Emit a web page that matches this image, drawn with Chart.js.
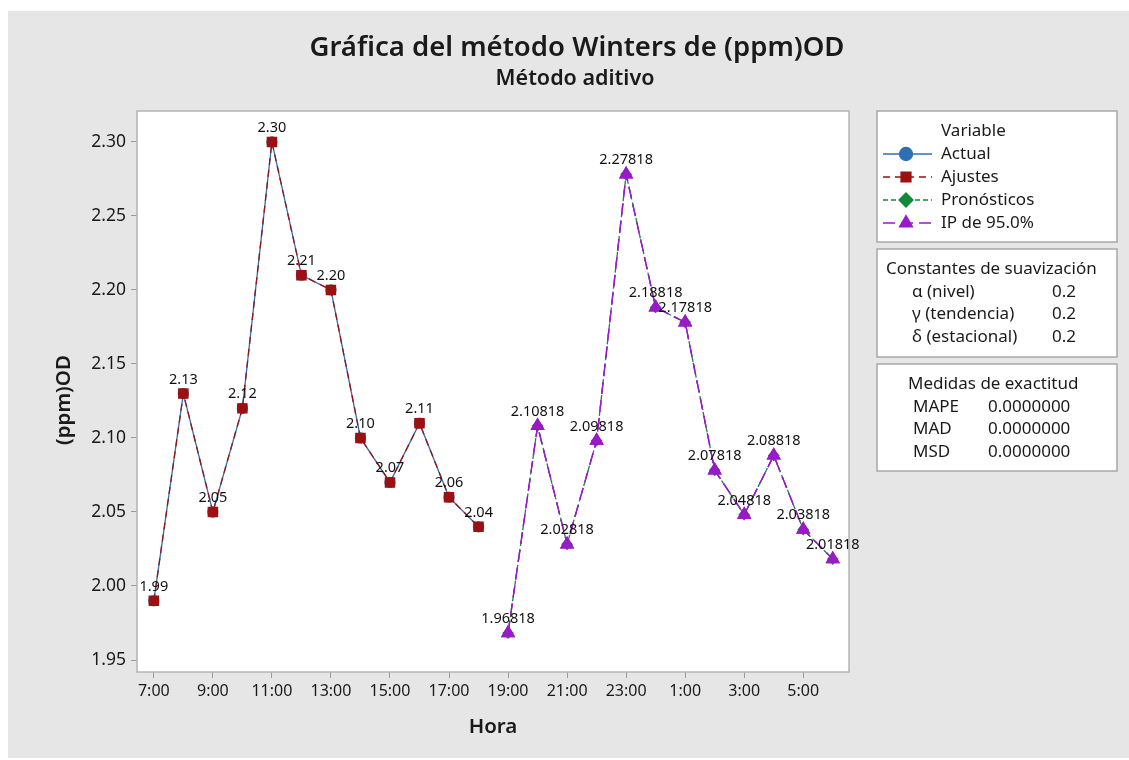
<!DOCTYPE html>
<html><head><meta charset="utf-8">
<script src="https://cdn.jsdelivr.net/npm/chart.js@4/dist/chart.umd.min.js"></script>
<style>html,body{margin:0;padding:0;background:#fff;}canvas{display:block;}</style>
</head><body>
<canvas id="c" width="1129" height="760"></canvas>
<script>
const categories = ["7:00","8:00","9:00","10:00","11:00","12:00","13:00","14:00","15:00","16:00","17:00","18:00",
  "19:00","20:00","21:00","22:00","23:00","0:00","1:00","2:00","3:00","4:00","5:00","6:00"];
const actualValues = [1.99,2.13,2.05,2.12,2.30,2.21,2.20,2.10,2.07,2.11,2.06,2.04];
const fitValues    = [1.99,2.13,2.05,2.12,2.30,2.21,2.20,2.10,2.07,2.11,2.06,2.04];
const forecastValues = [1.96818,2.10818,2.02818,2.09818,2.27818,2.18818,2.17818,2.07818,2.04818,2.08818,2.03818,2.01818];
const piUpper = [1.96818,2.10818,2.02818,2.09818,2.27818,2.18818,2.17818,2.07818,2.04818,2.08818,2.03818,2.01818];
const piLower = [1.96818,2.10818,2.02818,2.09818,2.27818,2.18818,2.17818,2.07818,2.04818,2.08818,2.03818,2.01818];
const yTicks = [1.95,2.00,2.05,2.10,2.15,2.20,2.25,2.30];
const xTickIdx = [0,2,4,6,8,10,12,14,16,18,20,22];
const smoothing = [["α (nivel)","0.2"],["γ (tendencia)","0.2"],["δ (estacional)","0.2"]];
const accuracy = [["MAPE","0.0000000"],["MAD","0.0000000"],["MSD","0.0000000"]];

const F = '"Noto Sans", "Open Sans", sans-serif';
const nFit = fitValues.length;
const pts = (arr, off) => arr.map((v,i)=>({x:i+off, y:v}));

const BLUE='#2f6fb5', RED='#9b1010', GREEN='#138a3a', PURPLE='#9a19c8';

const decor = {
  id:'decor',
  beforeDraw(chart){
    const ctx=chart.ctx, a=chart.chartArea;
    ctx.save();
    ctx.fillStyle='#ffffff'; ctx.fillRect(0,0,1129,760);
    ctx.fillStyle='#e6e6e6'; ctx.fillRect(8,11,1121,747);
    ctx.fillStyle='#ffffff'; ctx.fillRect(a.left,a.top,a.right-a.left,a.bottom-a.top);
    ctx.restore();
  },
  afterDraw(chart){
    const ctx=chart.ctx, a=chart.chartArea;
    ctx.save();
    ctx.strokeStyle='#b4b4b4'; ctx.lineWidth=1.5;
    ctx.strokeRect(a.left,a.top,a.right-a.left,a.bottom-a.top);
    // titles
    ctx.fillStyle='#1a1a1a'; ctx.textAlign='center'; ctx.textBaseline='middle';
    ctx.font='600 27.5px '+F; ctx.fillText('Gráfica del método Winters de (ppm)OD',577,48);
    ctx.font='600 21.5px '+F; ctx.fillText('Método aditivo',575,79);
    ctx.font='600 20.5px '+F; ctx.fillText('Hora',(a.left+a.right)/2,727);
    ctx.save(); ctx.translate(64,400); ctx.rotate(-Math.PI/2);
    ctx.fillText('(ppm)OD',0,0); ctx.restore();
    // data labels
    ctx.font='14.5px '+F; ctx.fillStyle='#111'; ctx.textBaseline='alphabetic';
    const m1=chart.getDatasetMeta(1).data, m4=chart.getDatasetMeta(3).data;
    m1.forEach((p,i)=>ctx.fillText(fitValues[i].toFixed(2),p.x,p.y-10));
    m4.forEach((p,i)=>ctx.fillText(piUpper[i].toFixed(5),p.x,p.y-10));
    // legend boxes
    const bx=877, bw=240;
    const box=(y,h)=>{ctx.fillStyle='#fff';ctx.fillRect(bx,y,bw,h);ctx.strokeStyle='#a8a8a8';ctx.lineWidth=1.5;ctx.strokeRect(bx,y,bw,h);};
    box(111,131); box(249,108); box(364,107);
    ctx.fillStyle='#1a1a1a'; ctx.textAlign='left'; ctx.textBaseline='middle'; ctx.font='17px '+F;
    ctx.fillText('Variable',941,131);
    const items=[['Actual',BLUE,'circle',[]],['Ajustes',RED,'rect',[7,5]],['Pronósticos',GREEN,'rectRot',[5,3]],['IP de 95.0%',PURPLE,'triangle',[12,6]]];
    items.forEach((it,k)=>{
      const y=154+k*23;
      ctx.strokeStyle=it[1]; ctx.lineWidth=1.3; ctx.setLineDash(it[3]);
      ctx.beginPath(); ctx.moveTo(883,y); ctx.lineTo(932,y); ctx.stroke(); ctx.setLineDash([]);
      ctx.fillStyle=it[1]; ctx.strokeStyle=it[1];
      Chart.helpers.drawPoint(ctx,{pointStyle:it[2],radius:it[2]==='circle'?6.5:(it[2]==='triangle'?7.5:7),borderWidth:1},906,y);
      ctx.fillStyle='#1a1a1a'; ctx.fillText(it[0],941,y);
    });
    ctx.fillText('Constantes de suavización',886,269);
    smoothing.forEach((r,k)=>{const y=292+k*22.5; ctx.fillText(r[0],912,y); ctx.fillText(r[1],1052,y);});
    ctx.fillText('Medidas de exactitud',908,384);
    accuracy.forEach((r,k)=>{const y=407+k*22.5; ctx.fillText(r[0],913,y); ctx.fillText(r[1],988,y);});
    ctx.restore();
  }
};

new Chart(document.getElementById('c'),{
  type:'line',
  data:{datasets:[
    {label:'Actual',order:4,data:pts(actualValues,0),borderColor:BLUE,backgroundColor:BLUE,borderWidth:1.3,pointStyle:'circle',pointRadius:5,tension:0},
    {label:'Ajustes',order:3,data:pts(fitValues,0),borderColor:RED,backgroundColor:RED,borderWidth:1.3,borderDash:[7,5],pointStyle:'rect',pointRadius:6.5,tension:0},
    {label:'Pronósticos',order:2,data:pts(forecastValues,nFit),borderColor:GREEN,backgroundColor:GREEN,borderWidth:1.3,borderDash:[5,3],pointStyle:'rectRot',pointRadius:5,tension:0},
    {label:'IP superior 95.0%',order:1,data:pts(piUpper,nFit),borderColor:PURPLE,backgroundColor:PURPLE,borderWidth:1.3,borderDash:[12,6],pointStyle:'triangle',pointRadius:7,tension:0},
    {label:'IP inferior 95.0%',order:0,data:pts(piLower,nFit),borderColor:PURPLE,backgroundColor:PURPLE,borderWidth:1.3,borderDash:[12,6],pointStyle:'triangle',pointRadius:7,tension:0}
  ]},
  options:{
    responsive:false, animation:false, devicePixelRatio:1,
    layout:{padding:{left:0,top:111,right:1129-849,bottom:0}},
    plugins:{legend:{display:false},title:{display:false},tooltip:{enabled:false}},
    scales:{
      x:{type:'linear',min:-0.57,max:23.55,
        afterFit(s){s.height=760-672;},
        afterBuildTicks(s){s.ticks=xTickIdx.map(v=>({value:v}));},
        ticks:{autoSkip:false,maxRotation:0,padding:4,color:'#1a1a1a',font:{family:F,size:16},callback:(v)=>categories[v]},
        grid:{drawOnChartArea:false,drawTicks:true,tickLength:6,color:'#999'},border:{display:false}},
      y:{type:'linear',min:1.9419,max:2.3209,
        afterFit(s){s.width=137;},
        afterBuildTicks(s){s.ticks=yTicks.map(v=>({value:v}));},
        ticks:{autoSkip:false,padding:5,color:'#1a1a1a',font:{family:F,size:17.5},callback:(v)=>v.toFixed(2)},
        grid:{drawOnChartArea:false,drawTicks:true,tickLength:6,color:'#999'},border:{display:false}}
    }
  },
  plugins:[decor]
});
</script>
</body></html>
